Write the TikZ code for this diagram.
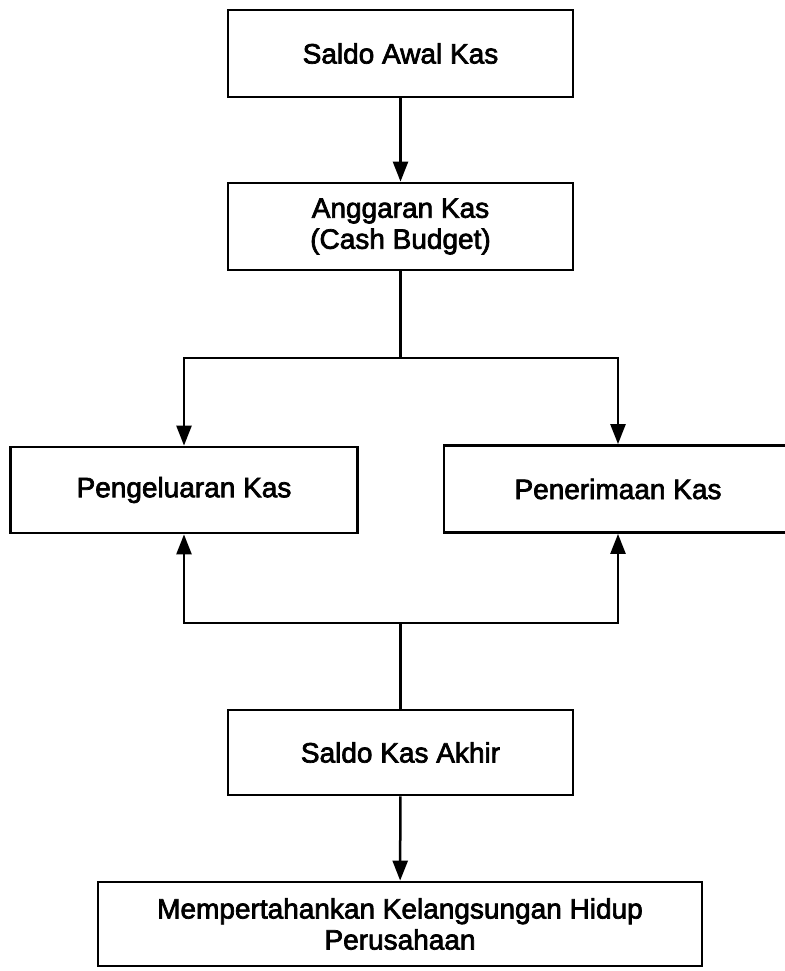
\documentclass[tikz,border=0pt]{standalone}
\usepackage{fontspec}
\setmainfont{Liberation Sans}
\newfontfamily\tebal{Liberation Sans}[FakeBold=2.5]
\usetikzlibrary{arrows.meta}
\begin{document}
\begin{tikzpicture}[x=1pt,y=-1pt,
    kotak/.style={draw, line width=2.8pt, align=center, inner sep=0pt,
      font=\tebal\fontsize{28}{31}\selectfont},
    panah/.style={line width=2.5pt, -{Triangle[length=20pt,width=15pt]}},
    garis/.style={line width=2.5pt}]
  \useasboundingbox (0,0) rectangle (784,971);
  % top part
  \node[kotak, minimum width=345pt, minimum height=87pt] (saldoawal) at (400.5,53.5) {Saldo Awal Kas};
  \node[kotak, minimum width=345pt, minimum height=87pt] (anggaran) at (400.5,226.5) {Anggaran Kas\\(Cash Budget)};
  % middle boxes
  \node[kotak, minimum width=347pt, minimum height=86pt] (pengeluaran) at (184,490) {Pengeluaran Kas};
  \node[kotak, minimum width=348pt, minimum height=87pt] (penerimaan) at (618,489) {Penerimaan Kas};
  % bottom part
  \node[kotak, minimum width=345pt, minimum height=85pt] (saldoakhir) at (400.5,752.5) {Saldo Kas Akhir};
  \node[kotak, minimum width=604pt, minimum height=84pt] (hidup) at (400,924) {Mempertahankan Kelangsungan Hidup\\Perusahaan};
  \coordinate (cabang) at (400.5,358);
  \coordinate (gabung) at (400.5,623);
  % connectors
  \draw[panah] (saldoawal) -- (anggaran);
  \draw[garis] (anggaran) -- (cabang);
  \draw[panah] (cabang) -| (pengeluaran.north);
  \draw[panah] (cabang) -| (penerimaan.north);
  \draw[panah] (gabung) -| (pengeluaran.south);
  \draw[panah] (gabung) -| (penerimaan.south);
  \draw[garis] (saldoakhir) -- (gabung);
  \draw[panah] (saldoakhir) -- (hidup);
\end{tikzpicture}
\end{document}
